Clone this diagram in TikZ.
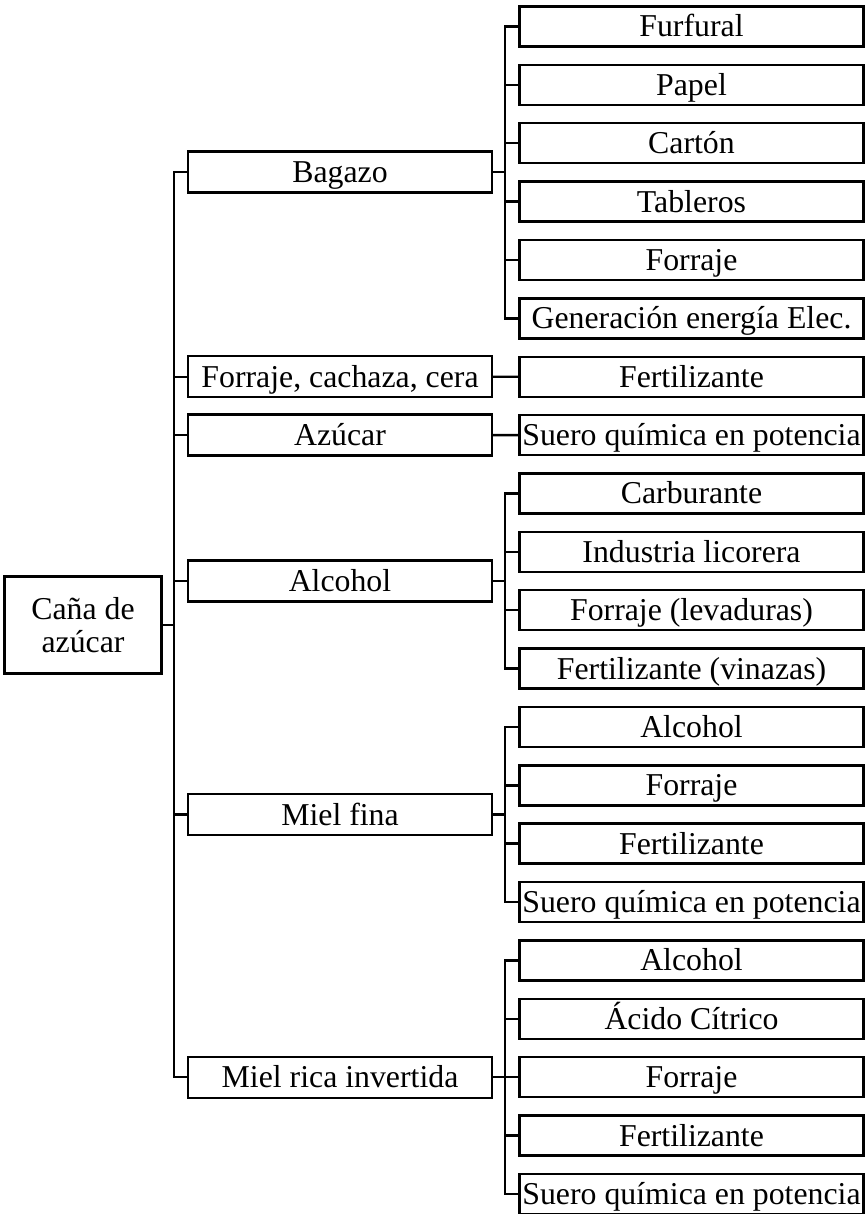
\documentclass[tikz,border=0pt]{standalone}
\usepackage{fontspec}
\setmainfont{Liberation Serif}
\begin{document}
\begin{tikzpicture}[x=1pt,y=-1pt,
  every node/.style={font=\fontsize{31.8}{33}\selectfont, inner sep=0pt,
    text height=22pt, text depth=1pt},
  box/.style={draw, line width=2.4pt},
  rootbox/.style={box, minimum width=157pt, minimum height=97pt, align=center,
    text height=, text depth=},
  lvlone/.style={box, minimum width=304pt, minimum height=41pt},
  lvltwo/.style={box, minimum width=344pt, minimum height=40pt},
  link/.style={line width=2.4pt}]
\useasboundingbox (0,0) rectangle (865,1214);

% root
\node[rootbox] (r) at (83,625) {Caña de\\azúcar};

% first level
\node[lvlone] (b1) at (340,172.2) {Bagazo};
\node[lvlone] (b2) at (340,376.7) {Forraje, cachaza, cera};
\node[lvlone] (b3) at (340,435.1) {Azúcar};
\node[lvlone] (b4) at (340,581.0) {Alcohol};
\node[lvlone] (b5) at (340,814.5) {Miel fina};
\node[lvlone] (b6) at (340,1077.2) {Miel rica invertida};

% second level (rows spaced 58.37)
\foreach \name/\row/\txt in {
  c1/0/Furfural, c2/1/Papel, c3/2/Cartón, c4/3/Tableros, c5/4/Forraje,
  c6/5/Generación energía Elec., d1/6/Fertilizante,
  e1/7/Suero química en potencia,
  f1/8/Carburante, f2/9/Industria licorera, f3/10/Forraje (levaduras),
  f4/11/Fertilizante (vinazas),
  g1/12/Alcohol, g2/13/Forraje, g3/14/Fertilizante,
  g4/15/Suero química en potencia,
  h1/16/Alcohol, h2/17/Ácido Cítrico, h3/18/Forraje, h4/19/Fertilizante,
  h5/20/Suero química en potencia}
  \node[lvltwo] (\name) at (691.5,{26.5+58.37*\row}) {\txt};

% trunk from the root
\coordinate (tk) at (174,0);
\draw[link] (b1.west) -- (b1.west -| tk) |- (b6.west);
\foreach \b in {b2,b3,b4,b5} \draw[link] (\b.west) -- (\b.west -| tk);
\draw[link] (r.east) -- (r.east -| tk);

% second-level brackets
\coordinate (bk) at (505,0);
\draw[link] (b1.east) -- (b1.east -| bk);
\draw[link] (c1.west) -- (c1.west -| bk) |- (c6.west);
\foreach \c in {c2,c3,c4,c5} \draw[link] (\c.west) -- (\c.west -| bk);

\draw[link] (b2.east) -- (d1.west);
\draw[link] (b3.east) -- (e1.west);

\draw[link] (b4.east) -- (b4.east -| bk);
\draw[link] (f1.west) -- (f1.west -| bk) |- (f4.west);
\foreach \c in {f2,f3} \draw[link] (\c.west) -- (\c.west -| bk);

\draw[link] (b5.east) -- (b5.east -| bk);
\draw[link] (g1.west) -- (g1.west -| bk) |- (g4.west);
\foreach \c in {g2,g3} \draw[link] (\c.west) -- (\c.west -| bk);

\draw[link] (b6.east) -- (b6.east -| bk);
\draw[link] (h1.west) -- (h1.west -| bk) |- (h5.west);
\foreach \c in {h2,h3,h4} \draw[link] (\c.west) -- (\c.west -| bk);
\end{tikzpicture}
\end{document}
